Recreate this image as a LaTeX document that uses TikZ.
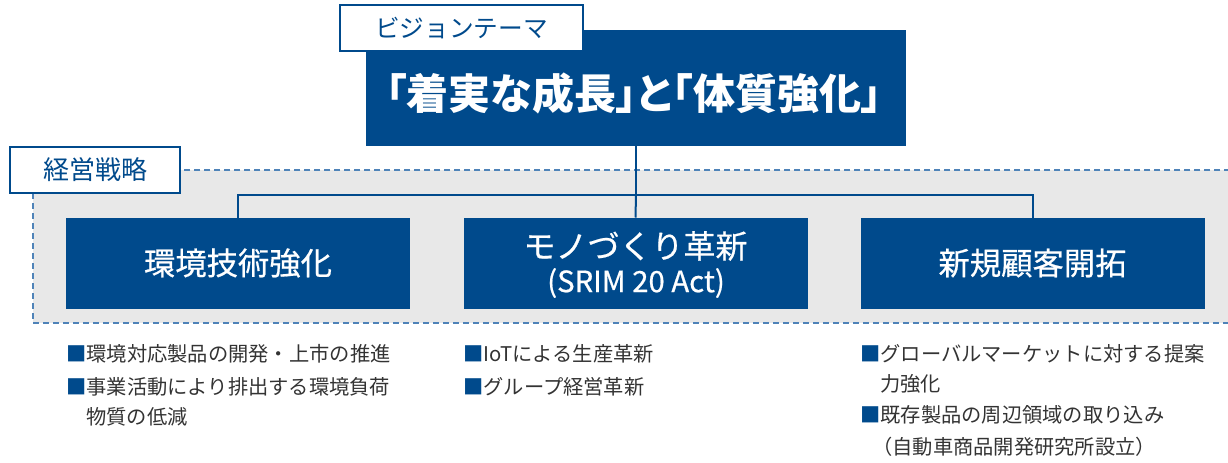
\documentclass[tikz,border=0pt]{standalone}
\usepackage{fontspec}
\setmainfont{Noto Sans CJK JP}
\newfontfamily\medfont[FakeBold=0.6]{Noto Sans CJK JP}
\newfontfamily\titlefont[RawFeature=+palt]{Noto Sans CJK JP}
\definecolor{navy}{HTML}{004A8C}
\definecolor{bgray}{HTML}{E8E8E8}
\definecolor{dashblue}{HTML}{4F83B8}
\definecolor{txtgray}{HTML}{333333}
\begin{document}
\begin{tikzpicture}[x=0.75pt,y=-0.75pt,
  bluebox/.style={fill=navy,draw=none,text=white,inner sep=0pt,outer sep=0pt,align=center},
  labelbox/.style={fill=white,draw=navy,line width=1.5pt,text=navy,inner sep=0pt,outer sep=0pt,font=\fontsize{18.5}{20}\selectfont},
  conn/.style={draw=navy,line width=1.5pt},
  item/.style={anchor=base west,inner sep=0pt,text=txtgray,font=\fontsize{15.2}{18}\selectfont},
  sq/.style={text=navy}
]
\useasboundingbox (0,0) rectangle (1228,462);
\begin{scope}
\clip (0,0) rectangle (1228,462);
\fill[bgray] (33,170) rectangle (1240,323);
\draw[dashblue,line width=1.2pt,dash pattern=on 4.5pt off 3pt] (1240,170) -- (33,170) -- (33,323) -- (1240,323);
\end{scope}
% main theme box
\node[bluebox,minimum width=405pt,minimum height=87pt] (main) at (636,88) {};
\node[text=white,inner sep=0pt,font=\titlefont\fontsize{31.5}{33}\selectfont\bfseries] (title) at (634,93) {「着実な成長」と「体質強化」};
\node[labelbox,minimum width=182.25pt,minimum height=34.5pt] (vision) at (461.5,28) {ビジョンテーマ};
% strategy label
\node[labelbox,minimum width=127.5pt,minimum height=34.5pt,font=\fontsize{19.5}{21}\selectfont] (strat) at (95,170) {経営戦略};
% three boxes
\node[bluebox,minimum width=258pt,minimum height=68.25pt,font=\medfont\fontsize{23.5}{26}\selectfont] (b1) at (238,263) {環境技術強化};
\node[bluebox,minimum width=258pt,minimum height=68.25pt] (b2) at (635.5,263) {};
\node[text=white,inner sep=0pt,font=\medfont\fontsize{24}{26}\selectfont] (b2a) at (635.5,246) {モノづくり革新};
\node[text=white,inner sep=0pt,font=\medfont\fontsize{22}{24}\selectfont] (b2b) at (636,283) {(SRIM 20 Act)};
\node[bluebox,minimum width=258pt,minimum height=68.25pt,font=\medfont\fontsize{23.5}{26}\selectfont] (b3) at (1032.5,263) {新規顧客開拓};
% connectors
\coordinate (j) at (636,195);
\draw[conn] (main.south) -- (j);
\draw[conn] (b1.north) -- (b1.north |- j) -- (b3.north |- j) -- (b3.north);
\draw[conn] (j) -- (b2.north);
% bullet lists
\node[item] (l1) at (66,361) {\textcolor{navy}{■}環境対応製品の開発・上市の推進};
\node[item] (l2) at (66,394) {\textcolor{navy}{■}事業活動により排出する環境負荷};
\node[item] (l2b) at (86,424) {物質の低減};
\node[item] (m1) at (463,361) {\textcolor{navy}{■}IoTによる生産革新};
\node[item] (m2) at (463,394) {\textcolor{navy}{■}グループ経営革新};
\node[item] (r1) at (860,361) {\textcolor{navy}{■}グローバルマーケットに対する提案};
\node[item] (r1b) at (880,391) {力強化};
\node[item] (r2) at (860,422) {\textcolor{navy}{■}既存製品の周辺領域の取り込み};
\node[item] (r2b) at (872,454) {（自動車商品開発研究所設立）};
\end{tikzpicture}
\end{document}
